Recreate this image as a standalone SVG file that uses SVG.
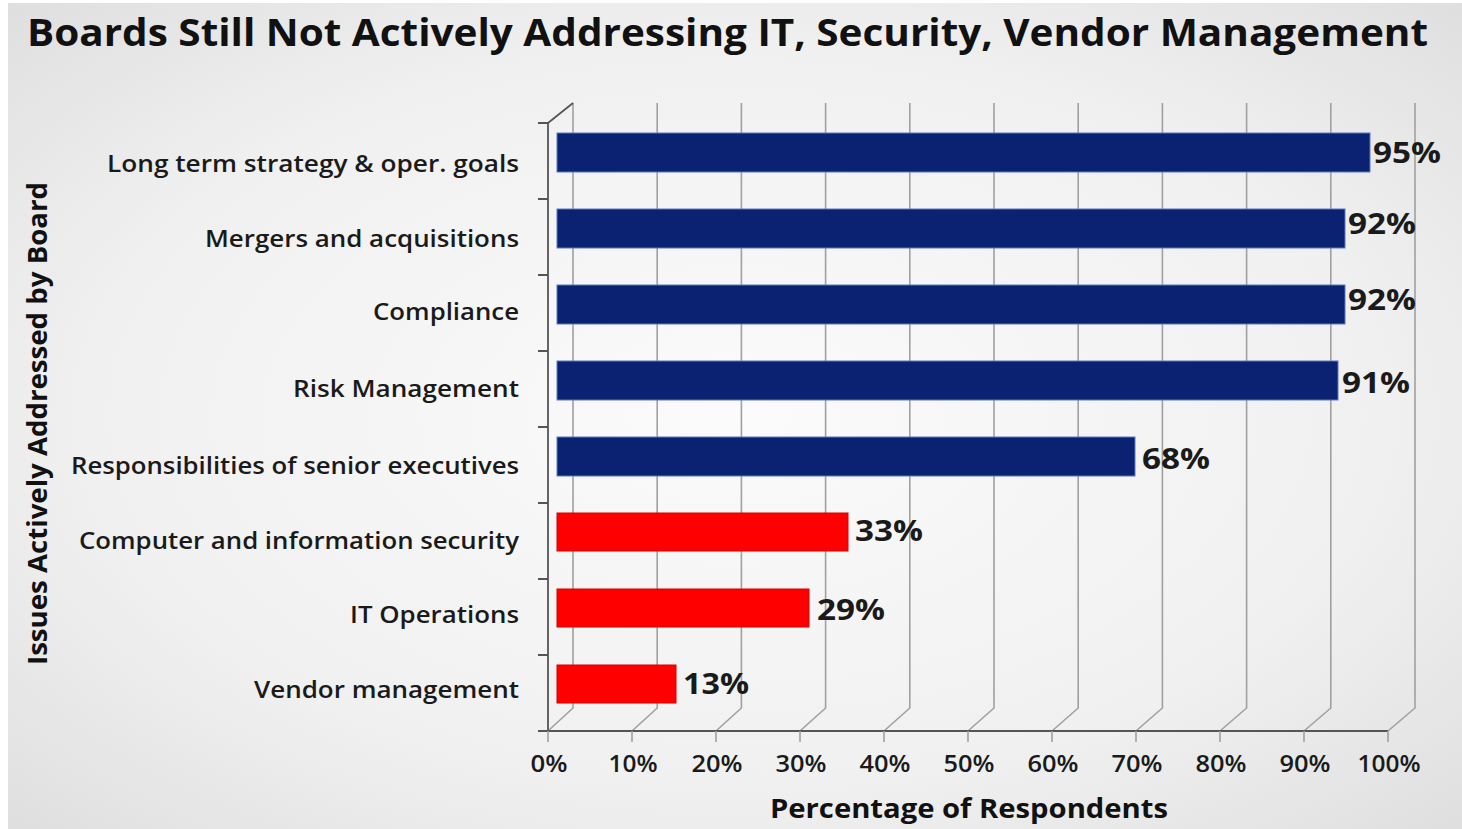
<svg xmlns="http://www.w3.org/2000/svg" width="1462" height="829" viewBox="0 0 1462 829">
<defs>
<radialGradient id="bg" cx="0.5" cy="0.5" r="0.75">
<stop offset="0" stop-color="#fbfbfb"/>
<stop offset="0.6" stop-color="#f0f0f0"/>
<stop offset="1" stop-color="#dcdcdc"/>
</radialGradient>
<style>
.grid{stroke:#a0a0a0;stroke-width:1.6;fill:none}
.axis{stroke:#555;stroke-width:1.8;fill:none}
.navy{fill:#0b2172;stroke:#5a78c0;stroke-width:1}
.red{fill:#ff0000;stroke:#d80000;stroke-width:1}
.cat{font-family:"Open Sans","DejaVu Sans",sans-serif;font-size:23px;fill:#1a1a1a;text-anchor:end;font-weight:600}
.val{font-family:"Open Sans","DejaVu Sans",sans-serif;font-size:28px;font-weight:bold;fill:#1a1a1a}
.tick{font-family:"Open Sans","DejaVu Sans",sans-serif;font-size:23px;fill:#1a1a1a;text-anchor:middle;font-weight:600}
.ttl{font-family:"Open Sans","DejaVu Sans",sans-serif;font-weight:bold;fill:#111}
</style>
</defs>
<rect x="0" y="0" width="1462" height="829" fill="#ffffff"/>
<rect x="8" y="3" width="1454" height="826" fill="url(#bg)"/>
<g id="title"><text class="ttl" x="27" y="46" font-size="38" textLength="1401" lengthAdjust="spacingAndGlyphs">Boards Still Not Actively Addressing IT, Security, Vendor Management</text></g>
<g id="gridlines">
<path class="grid" d="M573,103 V708 L548,731 M657.2,103 V708 L632,731 M741.4,103 V708 L716,731 M825.6,103 V708 L800,731 M909.8,103 V708 L884,731 M994,103 V708 L968,731 M1078.2,103 V708 L1052,731 M1162.4,103 V708 L1136,731 M1246.6,103 V708 L1220,731 M1330.8,103 V708 L1304,731 M1415,103 V708 L1388,731"/>
</g>
<g id="axes">
<path class="axis" d="M548,123 V731 H1388 M548,123 L573,103"/>
<path class="axis" d="M538,123 H548 M538,199 H548 M538,275 H548 M538,351 H548 M538,427 H548 M538,503 H548 M538,579 H548 M538,655 H548 M538,731 H548"/>
<path class="grid" d="M548,731 V742 M632,731 V742 M716,731 V742 M800,731 V742 M884,731 V742 M968,731 V742 M1052,731 V742 M1136,731 V742 M1220,731 V742 M1304,731 V742 M1388,731 V742"/>
</g>
<g id="bars">
<rect class="navy" x="557" y="133" width="813" height="39"/>
<rect class="navy" x="557" y="209" width="788" height="39"/>
<rect class="navy" x="557" y="285" width="788" height="39"/>
<rect class="navy" x="557" y="361" width="781" height="39"/>
<rect class="navy" x="557" y="437" width="578" height="39"/>
<rect class="red" x="557" y="513" width="291" height="38"/>
<rect class="red" x="557" y="589" width="252" height="38"/>
<rect class="red" x="557" y="665" width="119" height="38"/>
</g>
<g id="values">
<text class="val" x="1373" y="163" textLength="68" lengthAdjust="spacingAndGlyphs">95%</text>
<text class="val" x="1348" y="234" textLength="68" lengthAdjust="spacingAndGlyphs">92%</text>
<text class="val" x="1348" y="310" textLength="68" lengthAdjust="spacingAndGlyphs">92%</text>
<text class="val" x="1342" y="393" textLength="68" lengthAdjust="spacingAndGlyphs">91%</text>
<text class="val" x="1142" y="469" textLength="68" lengthAdjust="spacingAndGlyphs">68%</text>
<text class="val" x="855" y="541" textLength="68" lengthAdjust="spacingAndGlyphs">33%</text>
<text class="val" x="817" y="620" textLength="68" lengthAdjust="spacingAndGlyphs">29%</text>
<text class="val" x="683" y="694" textLength="66" lengthAdjust="spacingAndGlyphs">13%</text>
</g>
<g id="categories">
<text class="cat" x="519" y="172" textLength="412" lengthAdjust="spacingAndGlyphs">Long term strategy &amp; oper. goals</text>
<text class="cat" x="519" y="247" textLength="314" lengthAdjust="spacingAndGlyphs">Mergers and acquisitions</text>
<text class="cat" x="519" y="320" textLength="146" lengthAdjust="spacingAndGlyphs">Compliance</text>
<text class="cat" x="519" y="397" textLength="226" lengthAdjust="spacingAndGlyphs">Risk Management</text>
<text class="cat" x="519" y="474" textLength="448" lengthAdjust="spacingAndGlyphs">Responsibilities of senior executives</text>
<text class="cat" x="519" y="549" textLength="440" lengthAdjust="spacingAndGlyphs">Computer and information security</text>
<text class="cat" x="519" y="623" textLength="169" lengthAdjust="spacingAndGlyphs">IT Operations</text>
<text class="cat" x="519" y="698" textLength="265" lengthAdjust="spacingAndGlyphs">Vendor management</text>
</g>
<g id="ticklabels">
<text class="tick" x="549" y="772" textLength="37" lengthAdjust="spacingAndGlyphs">0%</text>
<text class="tick" x="633" y="772" textLength="49" lengthAdjust="spacingAndGlyphs">10%</text>
<text class="tick" x="717" y="772" textLength="51" lengthAdjust="spacingAndGlyphs">20%</text>
<text class="tick" x="801" y="772" textLength="51" lengthAdjust="spacingAndGlyphs">30%</text>
<text class="tick" x="885" y="772" textLength="51" lengthAdjust="spacingAndGlyphs">40%</text>
<text class="tick" x="969" y="772" textLength="51" lengthAdjust="spacingAndGlyphs">50%</text>
<text class="tick" x="1053" y="772" textLength="51" lengthAdjust="spacingAndGlyphs">60%</text>
<text class="tick" x="1137" y="772" textLength="51" lengthAdjust="spacingAndGlyphs">70%</text>
<text class="tick" x="1221" y="772" textLength="51" lengthAdjust="spacingAndGlyphs">80%</text>
<text class="tick" x="1305" y="772" textLength="51" lengthAdjust="spacingAndGlyphs">90%</text>
<text class="tick" x="1389" y="772" textLength="63" lengthAdjust="spacingAndGlyphs">100%</text>
</g>
<g id="xtitle"><text class="ttl" x="770" y="818" font-size="26" textLength="398" lengthAdjust="spacingAndGlyphs">Percentage of Respondents</text></g>
<g id="ytitle"><text class="ttl" transform="translate(47,665) rotate(-90)" x="0" y="0" font-size="26" textLength="483" lengthAdjust="spacingAndGlyphs">Issues Actively Addressed by Board</text></g>
</svg>
